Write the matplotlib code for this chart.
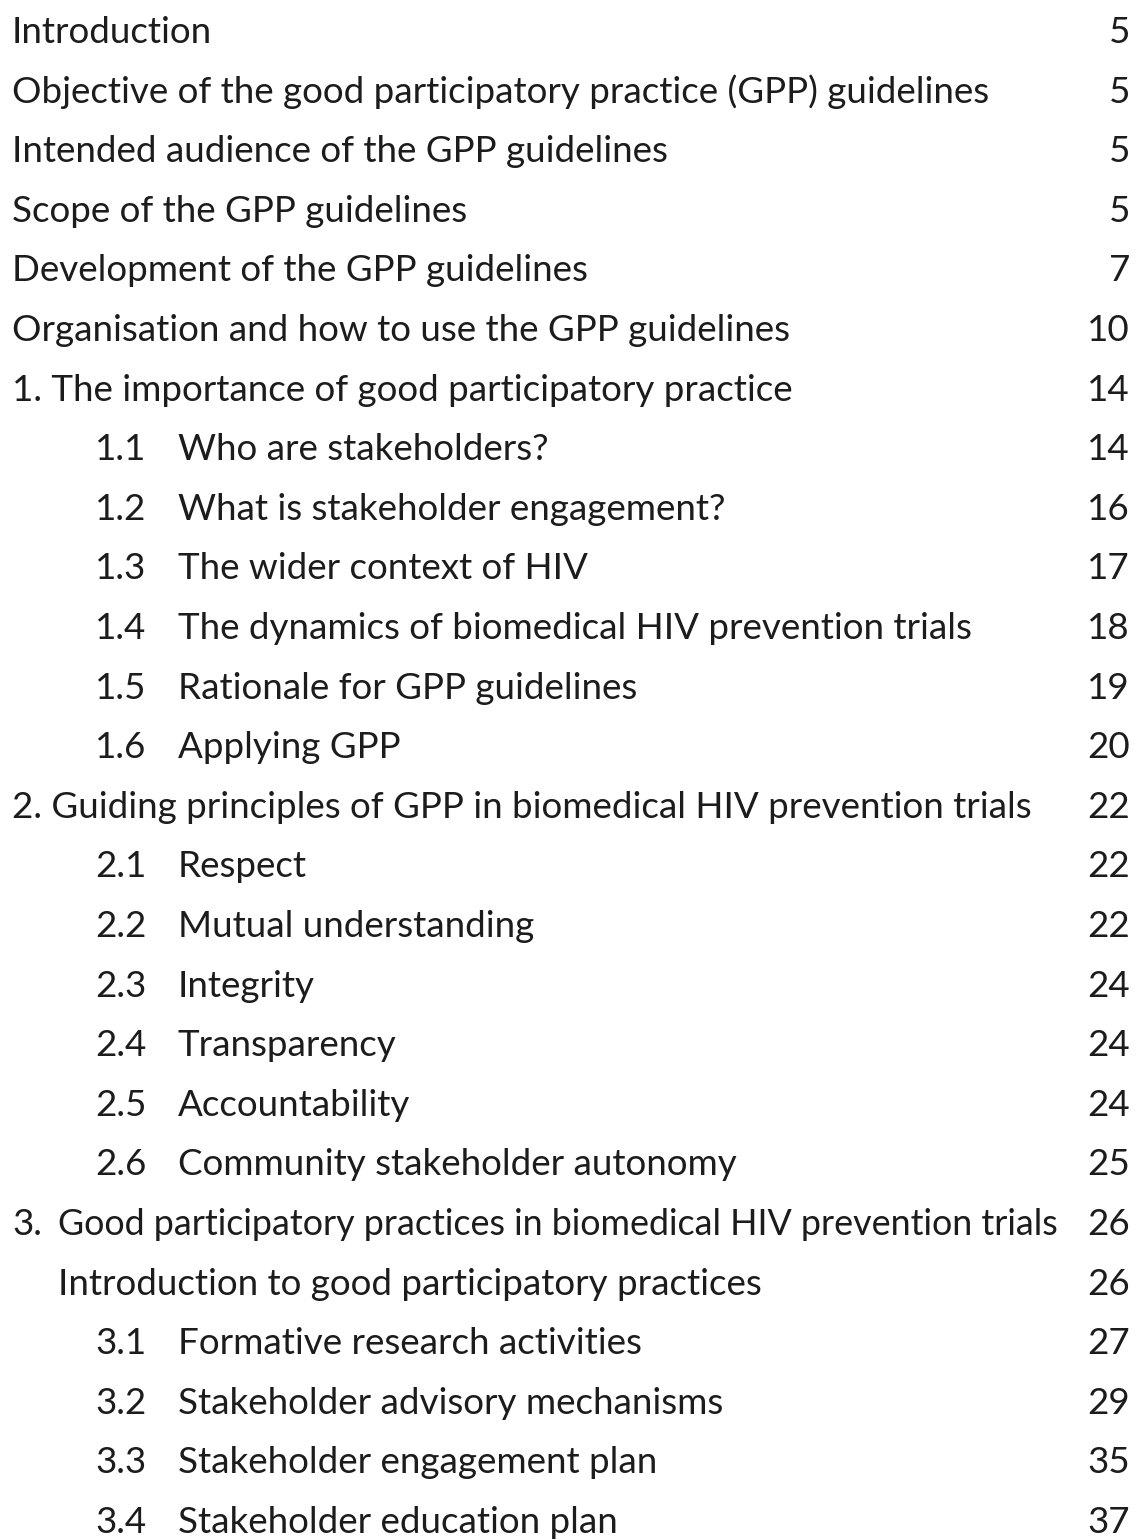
import matplotlib
matplotlib.use("Agg")
import matplotlib.pyplot as plt

# table of contents entries
numbers = ["", "", "", "", "", "",
           "1.", "1.1", "1.2", "1.3", "1.4", "1.5", "1.6",
           "2.", "2.1", "2.2", "2.3", "2.4", "2.5", "2.6",
           "3.", "", "3.1", "3.2", "3.3", "3.4"]
titles = [
    "Introduction",
    "Objective of the good participatory practice (GPP) guidelines",
    "Intended audience of the GPP guidelines",
    "Scope of the GPP guidelines",
    "Development of the GPP guidelines",
    "Organisation and how to use the GPP guidelines",
    "The importance of good participatory practice",
    "Who are stakeholders?",
    "What is stakeholder engagement?",
    "The wider context of HIV",
    "The dynamics of biomedical HIV prevention trials",
    "Rationale for GPP guidelines",
    "Applying GPP",
    "Guiding principles of GPP in biomedical HIV prevention trials",
    "Respect",
    "Mutual understanding",
    "Integrity",
    "Transparency",
    "Accountability",
    "Community stakeholder autonomy",
    "Good participatory practices in biomedical HIV prevention trials",
    "Introduction to good participatory practices",
    "Formative research activities",
    "Stakeholder advisory mechanisms",
    "Stakeholder engagement plan",
    "Stakeholder education plan",
]
pages = ["5", "5", "5", "5", "7", "10",
         "14", "14", "16", "17", "18", "19", "20",
         "22", "22", "22", "24", "24", "24", "25",
         "26", "26", "27", "29", "35", "37"]
# 0 = top level, 1 = numbered subsection, 2 = indented unnumbered, 3 = split number
levels = [0, 0, 0, 0, 0, 0,
          0, 1, 1, 1, 1, 1, 1,
          0, 1, 1, 1, 1, 1, 1,
          3, 2, 1, 1, 1, 1]

W, H = 1136, 1540
fig = plt.figure(figsize=(W / 100, H / 100), dpi=100)
ax = fig.add_axes([0, 0, 1, 1])
ax.set_xlim(0, W)
ax.set_ylim(H, 0)
ax.axis("off")

color = "#1c1c1c"
font = dict(family=["Lato", "DejaVu Sans"], color=color, va="baseline")
size = 26.5

for i, (num, title, page, lvl) in enumerate(zip(numbers, titles, pages, levels)):
    y = 43 + i * 59.6
    if lvl == 0:
        label = (num + " " + title) if num else title
        ax.text(12, y, label, ha="left", fontsize=size, **font)
    elif lvl == 1:
        ax.text(95, y, num, ha="left", fontsize=size, **font)
        ax.text(178, y, title, ha="left", fontsize=size, **font)
    elif lvl == 2:
        ax.text(58, y, title, ha="left", fontsize=size, **font)
    else:
        # long heading is set a little tighter in the reference
        ax.text(12, y, num, ha="left", fontsize=size, **font)
        ax.text(58, y, title, ha="left", fontsize=size * 0.976, **font)
    ax.text(1130, y, page, ha="right", fontsize=size, **font)

fig.savefig("out.png", dpi=100, facecolor="white")
